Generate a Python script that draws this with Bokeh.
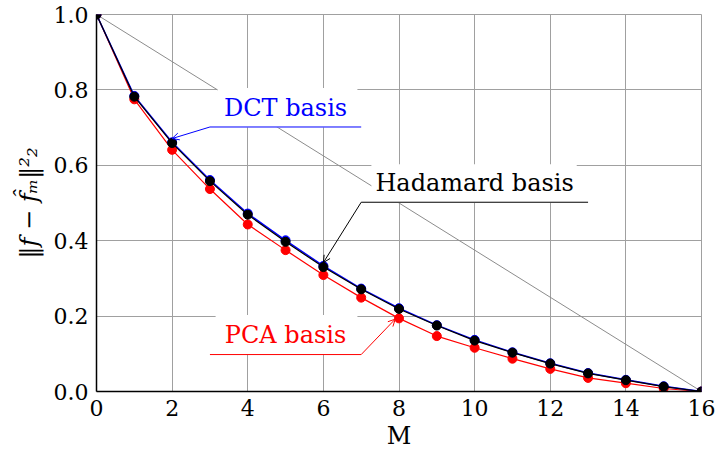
from bokeh.plotting import figure
from bokeh.models import (FixedTicker, PrintfTickFormatter, Label, Arrow, OpenHead)
from bokeh.embed import file_html
from bokeh.resources import INLINE

M = list(range(17))
hadamard = [1.0, 0.782, 0.659, 0.558, 0.469, 0.397, 0.330, 0.271, 0.219,
            0.175, 0.135, 0.103, 0.074, 0.048, 0.030, 0.013, 0.0]
dct = [1.0, 0.784, 0.661, 0.561, 0.472, 0.401, 0.333, 0.273, 0.221,
       0.176, 0.137, 0.104, 0.075, 0.049, 0.031, 0.014, 0.0]
pca = [1.0, 0.775, 0.641, 0.537, 0.443, 0.375, 0.309, 0.249, 0.194,
       0.147, 0.116, 0.087, 0.060, 0.036, 0.022, 0.008, 0.0]
x_ticks = [0, 2, 4, 6, 8, 10, 12, 14, 16]
y_ticks = [0.0, 0.2, 0.4, 0.6, 0.8, 1.0]

FONT = "'DejaVu Serif', serif"
FS = "22px"
LFS = "24px"

p = figure(width=716, height=454, x_range=(0, 16), y_range=(0, 1.0),
           output_backend="svg", toolbar_location=None,
           min_border_left=96, min_border_right=15, min_border_top=14,
           min_border_bottom=63)
p.background_fill_color = "white"
p.border_fill_color = "white"
p.outline_line_color = "#a0a0a0"
p.outline_line_width = 1

for ax in (p.xaxis[0], p.yaxis[0]):
    ax.major_tick_in = 0
    ax.major_tick_out = 0
    ax.minor_tick_in = 0
    ax.minor_tick_out = 0
    ax.axis_line_color = "black"
    ax.axis_line_width = 1.5
    ax.major_label_text_font = FONT
    ax.major_label_text_font_size = FS
    ax.major_label_text_color = "black"
    ax.axis_label_text_font = FONT
    ax.axis_label_text_font_size = LFS
    ax.axis_label_text_font_style = "normal"
    ax.axis_label_text_color = "black"

p.xaxis.ticker = FixedTicker(ticks=x_ticks)
p.yaxis.ticker = FixedTicker(ticks=y_ticks)
p.yaxis.formatter = PrintfTickFormatter(format="%.1f")
p.xgrid.ticker = FixedTicker(ticks=x_ticks)
p.ygrid.ticker = FixedTicker(ticks=y_ticks)
p.xgrid.grid_line_color = "#a0a0a0"
p.ygrid.grid_line_color = "#a0a0a0"
p.xgrid.grid_line_width = 1
p.ygrid.grid_line_width = 1
p.xaxis.major_label_standoff = 8
p.yaxis.major_label_standoff = 8
p.xaxis.axis_label = "M"
p.xaxis.axis_label_standoff = 3
p.yaxis.axis_label = "\u2016f \u2212 f\u0302\u2098\u2016\u00b2\u2082"
p.yaxis.axis_label_standoff = 8
p.yaxis.axis_label_text_font_style = "italic"

# diagonal reference line (linear decay)
p.line([M[0], M[-1]], [hadamard[0], hadamard[-1]], line_color="#8c8c8c", line_width=1)

# callout boxes (white)
boxes = [
    dict(l=3.2, r=6.9, b=0.70, t=0.805),   # DCT
    dict(l=7.27, r=12.7, b=0.50, t=0.603),  # Hadamard
    dict(l=3.15, r=6.9, b=0.098, t=0.203),  # PCA
]
p.quad(left=[b["l"] for b in boxes], right=[b["r"] for b in boxes],
       bottom=[b["b"] for b in boxes], top=[b["t"] for b in boxes],
       fill_color="white", line_color=None)

# series
p.line(M, pca, line_color="red", line_width=1.2)
p.scatter(M, pca, size=9, fill_color="red", line_color="red")
p.line(M, dct, line_color="blue", line_width=1.5)
p.scatter(M, dct, size=9, fill_color="blue", line_color="blue")
p.line(M, hadamard, line_color="black", line_width=1.2)
p.scatter(M, hadamard, size=9, fill_color="black", line_color="black")

# underlines and connectors
p.line([3.0, 7.0], [0.7016, 0.7016], line_color="blue", line_width=1)
p.line([7.0, 13.0], [0.502, 0.502], line_color="black", line_width=1)
p.line([3.0, 7.0], [0.098, 0.098], line_color="red", line_width=1)

p.add_layout(Arrow(end=OpenHead(size=7, line_color="blue", line_width=1),
                   x_start=3.0, y_start=0.7016, x_end=2.0, y_end=dct[2] + 0.01,
                   line_color="blue", line_width=1))
p.add_layout(Arrow(end=OpenHead(size=7, line_color="black", line_width=1),
                   x_start=7.0, y_start=0.502, x_end=6.0, y_end=hadamard[6] + 0.012,
                   line_color="black", line_width=1))
p.add_layout(Arrow(end=OpenHead(size=7, line_color="red", line_width=1),
                   x_start=7.0, y_start=0.098, x_end=7.9, y_end=pca[8] - 0.002,
                   line_color="red", line_width=1))

for txt, xx, yy, col in [("DCT basis", 5.0, 0.752, "blue"),
                         ("Hadamard basis", 10.0, 0.553, "black"),
                         ("PCA basis", 5.0, 0.149, "red")]:
    p.add_layout(Label(x=xx, y=yy, text=txt, text_font=FONT, text_font_size=LFS,
                       text_color=col, text_align="center", text_baseline="middle"))

open("out.html", "w").write(file_html(p, INLINE))
